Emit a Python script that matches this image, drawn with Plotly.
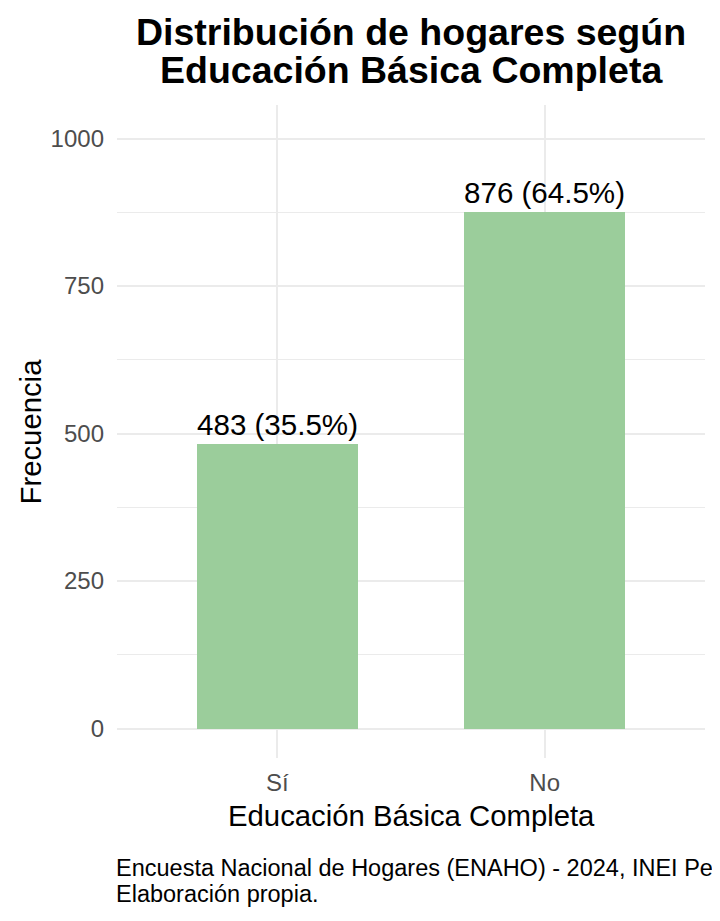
import plotly.graph_objs as go

categorias = ["Sí", "No"]
frecuencias = [483, 876]
porcentajes = [35.5, 64.5]
y_ticks = [0, 250, 500, 750, 1000]

titulo = ["Distribución de hogares según", "Educación Básica Completa"]
fuente = ["Encuesta Nacional de Hogares (ENAHO) - 2024, INEI Perú.", "Elaboración propia."]

# page body has an 8px margin, so the figure is a bit smaller than the window
W, H = 712, 913
ML, MR, MT, MB = 109, 15, 97, 163
FONT = "Liberation Sans, Arial, sans-serif"

def py(ypx):
	# window pixel row -> paper coordinate
	return (H - MB - (ypx - 8)) / (H - MT - MB)

etiquetas = [f"{f} ({p}%)" for f, p in zip(frecuencias, porcentajes)]

fig = go.Figure()
fig.add_trace(go.Bar(
	x=categorias, y=frecuencias, width=0.6,
	marker=dict(color="#9BCD9B", line=dict(width=0)),
	text=etiquetas, textposition="outside", cliponaxis=False,
	textfont=dict(family=FONT, size=33.5, color="black"),
	hoverinfo="skip"))

anns = []
for i, t in enumerate(titulo):
	anns.append(dict(text="<b>" + t + "</b>", xref="paper", yref="paper", x=0.5, y=py([32, 70][i]),
					 xanchor="center", yanchor="middle", showarrow=False,
					 font=dict(family=FONT, size=37.5, color="black")))
for i, t in enumerate(fuente):
	anns.append(dict(text=t, xref="paper", yref="paper", x=0, xshift=-3, y=py([868, 894][i]),
					 xanchor="left", yanchor="middle", showarrow=False,
					 font=dict(family=FONT, size=23.5, color="black")))
anns.append(dict(text="Educación Básica Completa", xref="paper", yref="paper", x=0.5, y=py(815),
				 xanchor="center", yanchor="middle", showarrow=False,
				 font=dict(family=FONT, size=29.3, color="black")))
anns.append(dict(text="Frecuencia", xref="paper", yref="paper", x=0, xshift=-87, y=0.5,
				 xanchor="center", yanchor="middle", showarrow=False, textangle=-90,
				 font=dict(family=FONT, size=29.3, color="black")))

fig.update_layout(
	width=W, height=H,
	margin=dict(l=ML, r=MR, t=MT, b=MB),
	plot_bgcolor="white", paper_bgcolor="white",
	showlegend=False, bargap=0,
	annotations=anns,
	font=dict(family=FONT)
)
fig.update_xaxes(
	range=[-0.6, 1.6], showgrid=True, gridcolor="#EBEBEB", gridwidth=1.6,
	showline=False, zeroline=False, ticks="",
	tickfont=dict(family=FONT, size=24, color="#4D4D4D"),
	ticklabelstandoff=8)
fig.update_yaxes(
	range=[-50, 1057], tickvals=y_ticks,
	showgrid=True, gridcolor="#EBEBEB", gridwidth=1.6,
	minor=dict(tickvals=[125, 375, 625, 875], showgrid=True, gridcolor="#EBEBEB", gridwidth=0.8),
	showline=False, zeroline=False, ticks="",
	tickfont=dict(family=FONT, size=24, color="#4D4D4D"),
	ticklabelstandoff=12)

fig.write_html("out.html")
